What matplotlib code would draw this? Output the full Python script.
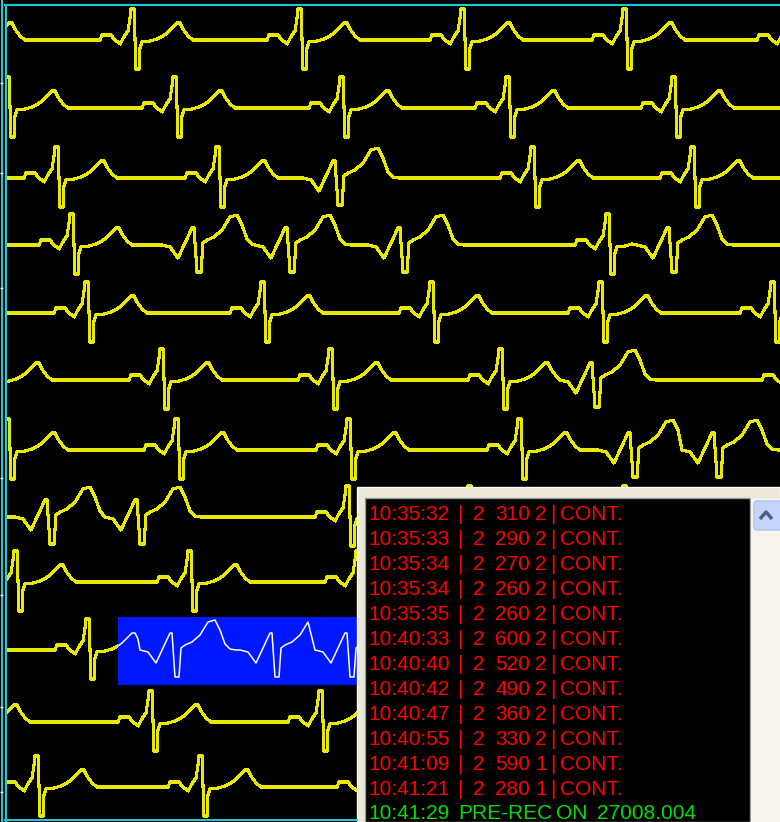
import matplotlib
matplotlib.use("Agg")
import matplotlib.pyplot as plt
from matplotlib.patches import Rectangle, FancyBboxPatch

# screen size in pixels, the axes below work in pixel units (y going down)
W, H = 780, 822

# beat shapes: offset from the R peak (px), height above baseline (px)
normal_dx = [-38, -33, -31, -22, -19, -13, -8, -5, -3, -2, 1, 2, 3, 6, 7, 9, 17, 24, 30, 34, 39, 44, 47, 50, 55, 60, 66]
normal_dy = [0, 0, 5, 5, 1, -4, 5, 9, 22, 31, 31, 0, -29, -29, -8, -2, -1, 1, 4, 7, 12, 17, 17, 11, 4, 0, 0]
wide_dx = [-30, -22, -14, 0, 2, 5, 9, 11, 15, 22, 30, 38, 45, 50, 55, 60, 66]
wide_dy = [0, -2, -13, 17, 17, -27, -27, 2, 5, 8, 15, 28, 30, 20, 6, 1, 0]

# one strip per row: baseline (px from top), R peak positions and beat kind
row_baseline = [40, 108, 178, 245, 313, 380, 450, 517, 582, 650, 722, 787]
row_beats = [
    [-35, 133, 300, 463, 625, 790],
    [8, 175, 342, 508, 674],
    [57, 218, 333, 533, 693],
    [72, 192, 285, 398, 608, 667],
    [87, 263, 432, 601, 773],
    [-8, 162, 331, 501, 590, 795],
    [8, 177, 349, 520, 628, 712],
    [45, 135, 348, 470, 625],
    [16, 190, 358, 530, 700],
    [88, 170, 270, 345, 520],
    [-30, 151, 321, 490, 660],
    [37, 201, 370, 540, 710],
]
row_kinds = [
    "NNNNNN",
    "NNNNN",
    "NNVNN",
    "NVVVNV",
    "NNNNN",
    "NNNNVN",
    "NNNNVV",
    "VVNNN",
    "NNNNN",
    "NVVVN",
    "NNNNN",
    "NNNNN",
]

# highlighted run on row 10
box_x = [118, 357]
box_y = [617, 685]

# event list
event_time = ["10:35:32", "10:35:33", "10:35:34", "10:35:34", "10:35:35", "10:40:33",
              "10:40:40", "10:40:42", "10:40:47", "10:40:55", "10:41:09", "10:41:21"]
event_chan = ["2"] * 12
event_value = ["310", "290", "270", "260", "260", "600", "520", "490", "360", "330", "590", "280"]
event_flag = ["2", "2", "2", "2", "2", "2", "2", "2", "2", "2", "1", "1"]
event_text = ["CONT."] * 12
last_line = ["10:41:29", "PRE-REC", "ON", "27008.004"]

# little white marks on the left edge
edge_marks = [83, 173, 288, 478, 595, 707, 792]

YELLOW = "#E8E800"
CYAN = "#1CCAD2"
FONT = ["Liberation Sans", "DejaVu Sans"]


def build_trace(beats, kinds, base):
    xs, ys = [0], [base]
    for r, k in zip(beats, kinds):
        dx, dy = (normal_dx, normal_dy) if k == "N" else (wide_dx, wide_dy)
        start = r + dx[0]
        while len(xs) > 1 and xs[-1] >= start:
            xs.pop()
            ys.pop()
        for a, b in zip(dx, dy):
            xs.append(r + a)
            ys.append(base - b)
    xs.append(W + 40)
    ys.append(base)
    return xs, ys


fig = plt.figure(figsize=(W / 100, H / 100), dpi=100)
fig.patch.set_facecolor("black")
ax = fig.add_axes([0, 0, 1, 1])
ax.set_xlim(0, W)
ax.set_ylim(H, 0)
ax.set_facecolor("black")
ax.axis("off")

clip = Rectangle((7, 6), W - 7, H - 6, transform=ax.transData)
for i, base in enumerate(row_baseline):
    xs, ys = build_trace(row_beats[i], row_kinds[i], base)
    line, = ax.plot(xs, ys, color=YELLOW, lw=1.5, zorder=2, antialiased=False)
    line.set_clip_path(clip)
    if i == 9:
        box = Rectangle((box_x[0], box_y[0]), box_x[1] - box_x[0], box_y[1] - box_y[0],
                        facecolor="#0018FF", edgecolor="none", zorder=3)
        ax.add_patch(box)
        white, = ax.plot(xs, ys, color="white", lw=1.1, zorder=4)
        white.set_clip_path(box)

# frame
ax.plot([1.5, 1.5], [0, H], color=CYAN, lw=1.5, zorder=7)
ax.plot([5.5, 5.5], [5, H], color=CYAN, lw=1.5, zorder=7)
ax.plot([5, W], [5.5, 5.5], color=CYAN, lw=1.5, zorder=7)
ax.plot([5, 357], [820, 820], color=CYAN, lw=1.5, zorder=7)
ax.hlines(edge_marks, 0, 2.5, color="white", lw=1, zorder=8)

# event window
ax.add_patch(Rectangle((357, 487), W - 357, H - 487, facecolor="#ECE9D8",
                       edgecolor="white", lw=1, zorder=5))
ax.add_patch(Rectangle((365, 498), 385, H - 498, facecolor="black",
                       edgecolor="#9A9A9A", lw=1, zorder=5))
ax.add_patch(Rectangle((751, 498), W - 751, H - 498, facecolor="#F4F3EE",
                       edgecolor="none", zorder=5))
ax.add_patch(FancyBboxPatch((754, 501), 30, 29, boxstyle="round,pad=0,rounding_size=3",
                            facecolor="#C4D4FA", edgecolor="#AFC3F0", lw=1, zorder=6))
ax.plot([760, 766, 772], [519, 512, 519], color="#4D6185", lw=2.5, zorder=7,
        solid_capstyle="butt")

fs = 15
for i in range(len(event_time)):
    y = 520 + 25 * i
    kw = dict(color="#FF0000", fontsize=fs, family=FONT, va="baseline", ha="left", zorder=6)
    ax.text(368, y, event_time[i], **kw)
    ax.text(457, y, "|", **kw)
    ax.text(473, y, event_chan[i], **kw)
    ax.text(495, y, event_value[i], **kw)
    ax.text(535, y, event_flag[i], **kw)
    ax.text(550, y, "|", **kw)
    ax.text(560, y, event_text[i], **kw)

y = 519 + 25 * len(event_time)
kw = dict(color="#00DD00", fontsize=fs, family=FONT, va="baseline", ha="left", zorder=6)
for x, s in zip([368, 458, 556, 597], last_line):
    ax.text(x, y, s, **kw)

fig.savefig("out.png", dpi=100, facecolor="black")
